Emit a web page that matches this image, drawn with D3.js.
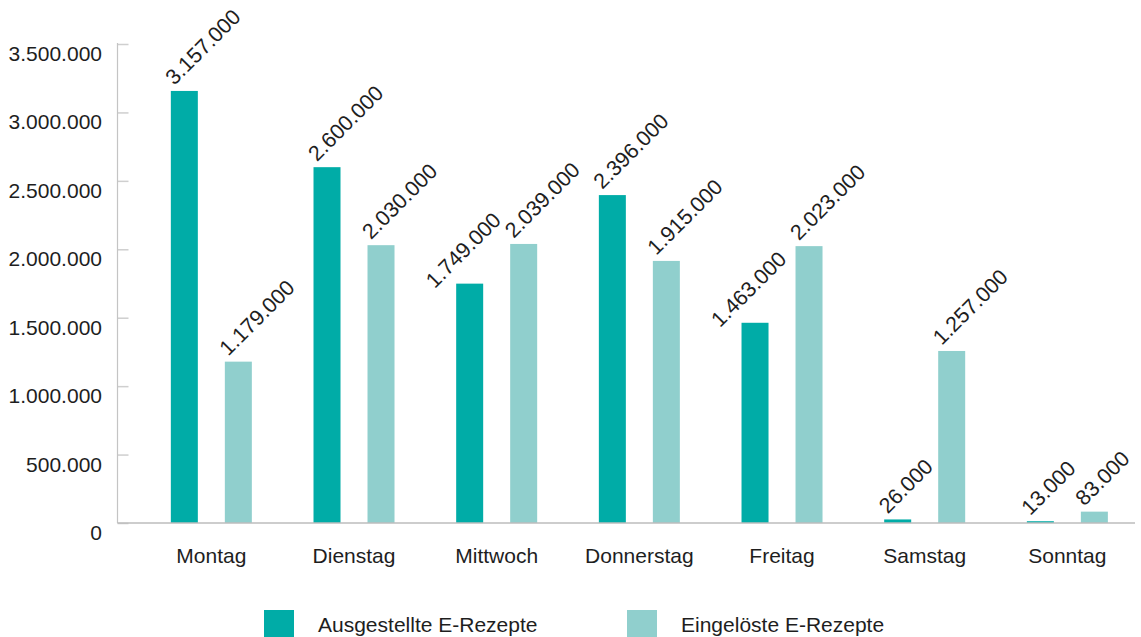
<!DOCTYPE html>
<html lang="de">
<head>
<meta charset="utf-8">
<script src="https://cdn.jsdelivr.net/npm/d3@7"></script>
<style>
  html, body { margin: 0; padding: 0; background: #ffffff; }
  svg { display: block; }
  text { font-family: "Liberation Sans", Arial, Helvetica, sans-serif; fill: #1e1e1e; }
</style>
</head>
<body>
<svg id="chart" width="1141" height="637"></svg>
<script>
// Wochentage
const days = ["Montag", "Dienstag", "Mittwoch", "Donnerstag", "Freitag", "Samstag", "Sonntag"];
// Ausgestellte E-Rezepte je Wochentag
const issued = [3157000, 2600000, 1749000, 2396000, 1463000, 26000, 13000];
// Eingelöste E-Rezepte je Wochentag
const redeemed = [1179000, 2030000, 2039000, 1915000, 2023000, 1257000, 83000];
// Reihennamen
const seriesNames = ["Ausgestellte E-Rezepte", "Eingelöste E-Rezepte"];
// Achsenwerte
const yTicks = [0, 500000, 1000000, 1500000, 2000000, 2500000, 3000000, 3500000];

const colors = ["#00aca7", "#90cfcd"];
const fmt = v => d3.format(",")(v).replace(/,/g, ".");

const svg = d3.select("#chart");
const axisX = 117.5, plotTop = 44, plotBottom = 523, plotRight = 1135;

const y = d3.scaleLinear().domain([0, 3500000]).range([plotBottom, plotTop]);
const x = d3.scaleBand().domain(days).range([140, 1138.7]).paddingInner(0).paddingOuter(0);
const step = x.step();
const xs = d3.scaleBand().domain(seriesNames)
  .range([step / 2 - 40.5, step / 2 + 40.5]).paddingInner(0.5).paddingOuter(0);

// y-Achse: Linie und kurze Striche
const yAxis = d3.axisRight(y).tickValues(yTicks).tickSize(11).tickFormat("");
const gy = svg.append("g").attr("transform", `translate(${axisX},0)`).call(yAxis);
gy.select(".domain").remove();
gy.selectAll(".tick line").attr("stroke", "#cfcfcf").attr("stroke-width", 1.5);
svg.append("line").attr("x1", axisX).attr("x2", axisX).attr("y1", plotTop - 1).attr("y2", plotBottom)
  .attr("stroke", "#c4c4c4").attr("stroke-width", 1.2);

// Achsenbeschriftung
svg.append("g").selectAll("text").data(yTicks).join("text")
  .attr("x", 102).attr("y", d => y(d) + 17)
  .attr("text-anchor", "end").attr("font-size", 21)
  .text(d => fmt(d));

// Balken
const rows = days.map((d, i) => [
  { day: d, s: seriesNames[0], v: issued[i], other: redeemed[i], k: 0 },
  { day: d, s: seriesNames[1], v: redeemed[i], other: issued[i], k: 1 }
]);

const groups = svg.append("g").selectAll("g").data(days).join("g")
  .attr("transform", d => `translate(${x(d)},0)`);

groups.each(function(d, i) {
  d3.select(this).selectAll("rect").data(rows[i]).join("rect")
    .attr("x", r => xs(r.s)).attr("width", xs.bandwidth())
    .attr("y", r => y(r.v)).attr("height", r => plotBottom - y(r.v))
    .attr("fill", r => colors[r.k]);
});

// Grundlinie
svg.append("line").attr("x1", axisX).attr("x2", plotRight).attr("y1", plotBottom).attr("y2", plotBottom)
  .attr("stroke", "#bdbdbd").attr("stroke-width", 1.5);

// Kategorienbeschriftung
svg.append("g").selectAll("text").data(days).join("text")
  .attr("x", d => x(d) + step / 2).attr("y", 563)
  .attr("text-anchor", "middle").attr("font-size", 21)
  .text(d => d);

// Wertebeschriftung, um 45° gedreht
const labelLayer = svg.append("g");
rows.flat().forEach(r => {
  const cx = x(r.day) + xs(r.s) + xs.bandwidth() / 2;
  let ox = cx - 10, oy = y(r.v) - 5;
  const t = labelLayer.append("text")
    .attr("font-size", 21.5)
    .text(fmt(r.v));
  const len = t.node().getComputedTextLength();
  // Etikett der dunklen Säule weicht aus, wenn es über die höhere Nachbarsäule laufen würde
  if (r.k === 0 && r.v < r.other) {
    const endX = ox + len * Math.SQRT1_2;
    const lightLeft = x(r.day) + xs(seriesNames[1]);
    if (endX > lightLeft + 4) { ox -= 25; oy += 10.5; }
  }
  t.attr("transform", `translate(${ox},${oy}) rotate(-45)`);
});

// Legende
const legend = svg.append("g");
const legendX = [264, 627];
seriesNames.forEach((s, i) => {
  legend.append("rect").attr("x", legendX[i]).attr("y", 610).attr("width", 30).attr("height", 30)
    .attr("fill", colors[i]);
  legend.append("text").attr("x", legendX[i] + 54).attr("y", 632)
    .attr("font-size", 21).text(s);
});
</script>
</body>
</html>
